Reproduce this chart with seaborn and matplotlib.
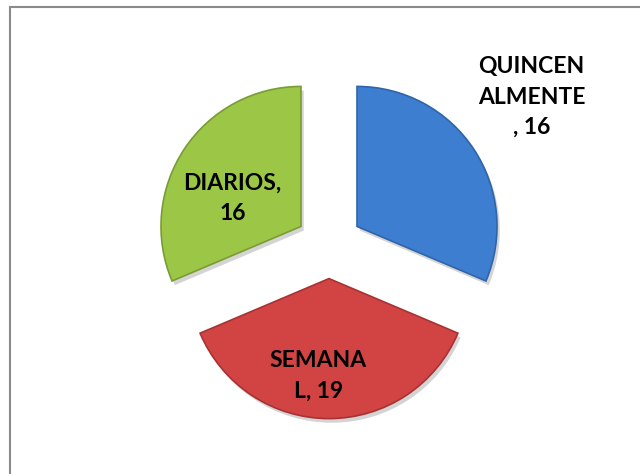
import numpy as np
import matplotlib
matplotlib.use("Agg")
import matplotlib.pyplot as plt
import matplotlib.patheffects as pe
from matplotlib.patches import Rectangle
import seaborn as sns

# data
categorias = ['QUINCENALMENTE', 'SEMANAL', 'DIARIOS']
valores = [16, 19, 16]
etiquetas = ['QUINCEN\nALMENTE\n, 16', 'SEMANA\nL, 19', 'DIARIOS,\n16']
colores = ['#3e7ed0', '#d24444', '#9cc646']
bordes = ['#2f65a8', '#a83232', '#7a9c34']

sns.set_theme(style='white')
plt.rcParams['font.family'] = ['Lato', 'DejaVu Sans']

fig = plt.figure(figsize=(6.4, 4.74), dpi=100)
ax = fig.add_axes([0, 0, 1, 1])

wedges, _ = ax.pie(valores, startangle=90, counterclock=False, colors=colores,
                   explode=[0.24] * 3, radius=1,
                   wedgeprops=dict(linewidth=1.2))
for w, ec in zip(wedges, bordes):
    w.set_edgecolor(ec)
    w.set_path_effects([pe.SimplePatchShadow(offset=(2, -3), alpha=0.25, shadow_rgbFace='#555555'),
                        pe.Normal()])

# label placement (distance from slice origin, angle tweak)
dist = [1.55, 0.70, 0.53]
giro = [3, -6.4, 11]
for w, txt, d, g in zip(wedges, etiquetas, dist, giro):
    mid = np.deg2rad((w.theta1 + w.theta2) / 2 + g)
    cx, cy = w.center
    ax.text(cx + d * np.cos(mid), cy + d * np.sin(mid), txt, ha='center', va='center',
            fontsize=16.5, fontweight='bold', color='black', linespacing=1.55)

ax.set_xlim(-329 / 140, 311 / 140)
ax.set_ylim(-229 / 140, 245 / 140)
ax.set_aspect('equal')
ax.axis('off')

fig.patches.append(Rectangle((10 / 640, -0.1), 1.0, 467 / 474 + 0.1, transform=fig.transFigure,
                             fill=False, edgecolor='#8a8a8a', linewidth=1.5))

fig.savefig('out.png', dpi=100, facecolor='white')
